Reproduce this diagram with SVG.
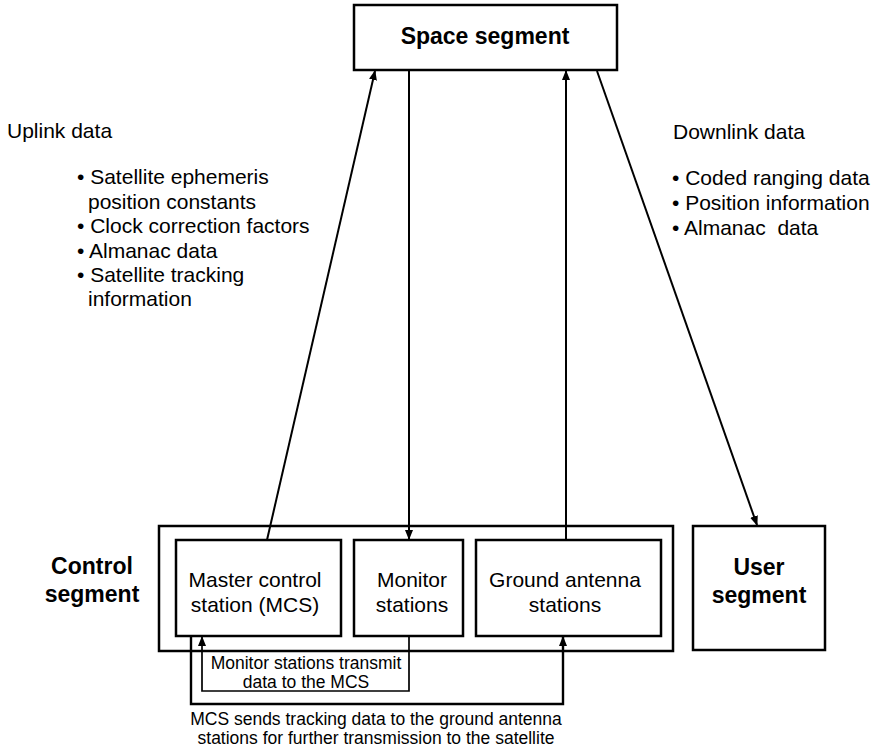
<svg xmlns="http://www.w3.org/2000/svg" width="877" height="753" viewBox="0 0 877 753">
<style>
.box{fill:#fff;stroke:#000;stroke-width:2.5}
.t{font-family:"Liberation Sans",Arial,sans-serif;font-size:21px;fill:#000}
.s{font-family:"Liberation Sans",Arial,sans-serif;font-size:17.5px;fill:#000}
.b{font-family:"Liberation Sans",Arial,sans-serif;font-size:23px;font-weight:bold;fill:#000}
.ln{fill:none;stroke:#000;stroke-width:2}
</style>
<defs>
<marker id="ah" markerUnits="userSpaceOnUse" markerWidth="10" markerHeight="10" viewBox="0 0 10 10" refX="9" refY="5" orient="auto">
<path d="M0,1 L10,5 L0,9 Z" fill="#000"/>
</marker>
</defs>
<g id="space-segment">
<rect class="box" x="354" y="5" width="263" height="65"/>
<text class="b" x="485" y="44" text-anchor="middle">Space segment</text>
</g>
<g id="control-segment">
<rect class="box" x="159" y="526" width="514" height="125"/>
<text class="b" x="92" y="574" text-anchor="middle">Control</text>
<text class="b" x="92" y="602" text-anchor="middle">segment</text>
</g>
<g id="mcs">
<rect class="box" x="176" y="540" width="165" height="96"/>
<text class="t" x="255" y="587" text-anchor="middle">Master control</text>
<text class="t" x="255" y="612" text-anchor="middle">station (MCS)</text>
</g>
<g id="monitor-stations">
<rect class="box" x="354" y="540" width="109" height="96"/>
<text class="t" x="412" y="587" text-anchor="middle">Monitor</text>
<text class="t" x="412" y="612" text-anchor="middle">stations</text>
</g>
<g id="ground-antenna">
<rect class="box" x="476" y="540" width="185" height="96"/>
<text class="t" x="565" y="587" text-anchor="middle">Ground antenna</text>
<text class="t" x="565" y="612" text-anchor="middle">stations</text>
</g>
<g id="user-segment">
<rect class="box" x="693" y="526" width="132" height="124"/>
<text class="b" x="759" y="575" text-anchor="middle">User</text>
<text class="b" x="759" y="603" text-anchor="middle">segment</text>
</g>
<g id="uplink-text">
<text class="t" x="7" y="138">Uplink data</text>
<text class="t" x="77" y="184">• Satellite ephemeris</text>
<text class="t" x="88" y="209">position constants</text>
<text class="t" x="77" y="233">• Clock correction factors</text>
<text class="t" x="77" y="258">• Almanac data</text>
<text class="t" x="77" y="282">• Satellite tracking</text>
<text class="t" x="88" y="306">information</text>
</g>
<g id="downlink-text">
<text class="t" x="673" y="139">Downlink data</text>
<text class="t" x="672" y="185">• Coded ranging data</text>
<text class="t" x="672" y="210">• Position information</text>
<text class="t" x="672" y="235" style="white-space:pre">• Almanac  data</text>
</g>
<g id="connectors">
<line class="ln" x1="267" y1="540" x2="375" y2="71" marker-end="url(#ah)"/>
<line class="ln" x1="409" y1="71" x2="409" y2="539" marker-end="url(#ah)"/>
<line class="ln" x1="566" y1="540" x2="566" y2="71" marker-end="url(#ah)"/>
<line class="ln" x1="597" y1="71" x2="757" y2="525" marker-end="url(#ah)"/>
<polyline class="ln" style="stroke-width:1.7" points="409,636 409,691 202,691 202,637" marker-end="url(#ah)"/>
<polyline class="ln" style="stroke-width:2.4" points="191,636 191,704 563,704 563,637" marker-end="url(#ah)"/>
</g>
<g id="loop-labels">
<text class="s" x="306" y="669" text-anchor="middle">Monitor stations transmit</text>
<text class="s" x="306" y="688" text-anchor="middle">data to the MCS</text>
<text class="s" x="376" y="725" text-anchor="middle">MCS sends tracking data to the ground antenna</text>
<text class="s" x="376" y="744" text-anchor="middle">stations for further transmission to the satellite</text>
</g>
</svg>
